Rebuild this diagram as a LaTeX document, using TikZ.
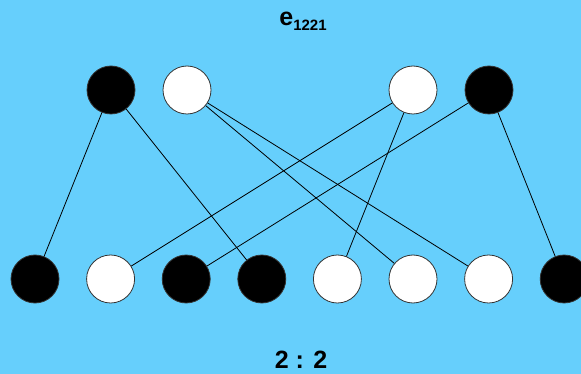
\documentclass[tikz,border=0pt]{standalone}
\usepackage{fontspec}
\setmainfont{Liberation Sans}
\definecolor{skyback}{HTML}{66CFFC}
\tikzset{
  bead/.style={circle,draw=black!80,line width=0.8pt,minimum size=48pt,inner sep=0pt},
  blk/.style={bead,fill=black},
  wht/.style={bead,fill=white},
  link/.style={line width=0.8pt}
}
\begin{document}
\begin{tikzpicture}[x=1pt,y=-1pt]
%background
\fill[skyback] (0,0) rectangle (581,374);
\useasboundingbox (0,0) rectangle (581,374);
%title
\node (title) at (303,21) {\fontsize{25}{28}\selectfont\bfseries e\raisebox{-5pt}{\fontsize{15}{17}\selectfont 1221}};
%top row
\node[blk] (t1) at (111,90) {};
\node[wht] (t2) at (187,90) {};
\node[wht] (t3) at (413,90) {};
\node[blk] (t4) at (489,90) {};
%bottom row
\foreach \i/\s in {1/blk,2/wht,3/blk,4/blk,5/wht,6/wht,7/wht,8/blk}
  \node[\s] (b\i) at ({35+75.6*(\i-1)},279) {};
%links
\draw[link] (t1) -- (b1);
\draw[link] (t1) -- (b4);
\draw[link] (t2) -- (b6);
\draw[link] (t2) -- (b7);
\draw[link] (t3) -- (b2);
\draw[link] (t3) -- (b5);
\draw[link] (t4) -- (b3);
\draw[link] (t4) -- (b8);
%ratio
\node (ratio) at (301,360) {\fontsize{25}{28}\selectfont\bfseries 2 : 2};
\end{tikzpicture}
\end{document}
